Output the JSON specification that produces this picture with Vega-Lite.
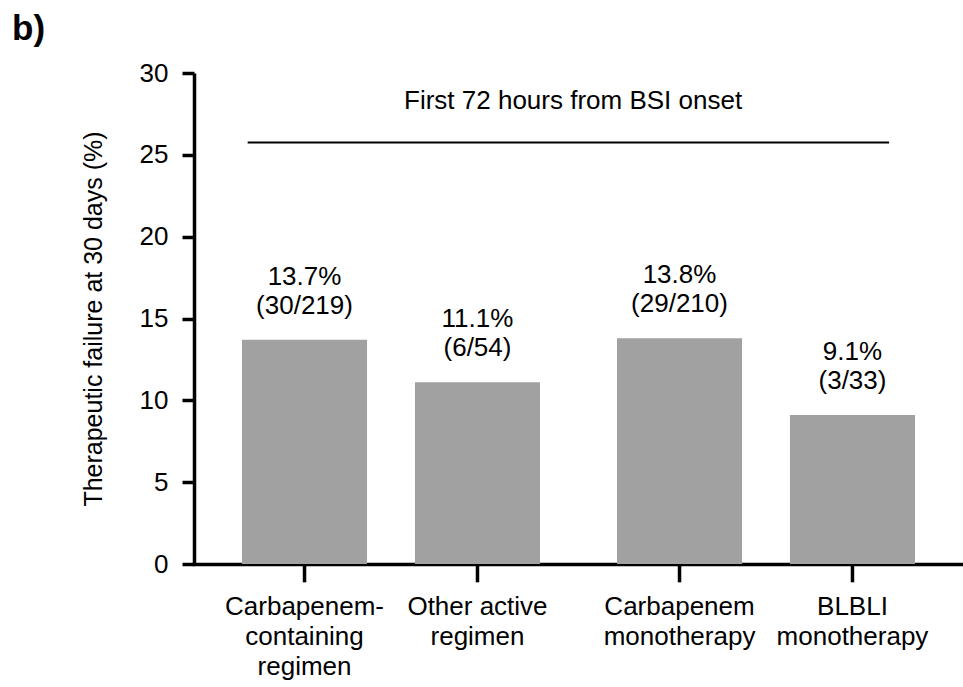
{
  "$schema": "https://vega.github.io/schema/vega-lite/v6.json",
  "width": 769,
  "height": 491,
  "autosize": {"type": "none"},
  "padding": {"left": 194, "top": 73, "right": 0, "bottom": 123},
  "background": "white",
  "title": {"text": "b)", "anchor": "start", "frame": "group", "dx": -182, "dy": 35, "fontSize": 35, "fontWeight": "bold", "color": "black", "baseline": "alphabetic", "offset": 20},
  "config": {
    "font": "Liberation Sans",
    "view": {"stroke": null},
    "axis": {"grid": false}
  },
  "datasets": {
    "bars": [
      {"comparison": "Combination regimens", "arm": "Carbapenem", "regimen": "Carbapenem-\ncontaining\nregimen", "pct": 13.7, "label": "13.7%\n(30/219)"},
      {"comparison": "Combination regimens", "arm": "Alternative", "regimen": "Other active\nregimen", "pct": 11.1, "label": "11.1%\n(6/54)"},
      {"comparison": "Monotherapy", "arm": "Carbapenem", "regimen": "Carbapenem\nmonotherapy", "pct": 13.8, "label": "13.8%\n(29/210)"},
      {"comparison": "Monotherapy", "arm": "Alternative", "regimen": "BLBLI\nmonotherapy", "pct": 9.1, "label": "9.1%\n(3/33)"}
    ],
    "bracket": [
      {"from": "Combination regimens", "to": "Monotherapy", "y": 25.75, "text": "First 72 hours from BSI onset"}
    ]
  },
  "layer": [
    {
      "data": {"name": "bars"},
      "mark": {"type": "bar", "color": "#a1a1a1"},
      "encoding": {
        "x": {"field": "comparison", "type": "nominal", "sort": null,
              "scale": {"domain": ["Combination regimens", "Monotherapy"], "paddingInner": 0.2053, "paddingOuter": 0.128},
              "axis": {"title": null, "labels": false, "ticks": false, "domain": true, "domainColor": "black", "domainWidth": 3.5, "domainCap": "square"}},
        "xOffset": {"field": "arm", "type": "nominal", "scale": {"domain": ["Carbapenem", "Alternative"], "paddingInner": 0.277, "paddingOuter": 0}},
        "y": {"field": "pct", "type": "quantitative",
              "scale": {"domain": [0, 30], "nice": false},
              "axis": {"title": "Therapeutic failure at 30 days (%)", "values": [0, 5, 10, 15, 20, 25, 30],
                       "titleFontSize": 25, "titleFontWeight": "normal", "titleColor": "black", "titlePadding": 33,
                       "labelFontSize": 26, "labelColor": "black", "labelPadding": 14,
                       "tickSize": 12, "tickWidth": 3.5, "tickColor": "black",
                       "domainColor": "black", "domainWidth": 3.5}}
      }
    },
    {
      "data": {"name": "bars"},
      "mark": {"type": "text", "baseline": "bottom", "fontSize": 26, "lineBreak": "\n", "lineHeight": 29, "dy": -50, "color": "black"},
      "encoding": {
        "x": {"field": "comparison", "type": "nominal"},
        "xOffset": {"field": "arm", "type": "nominal"},
        "y": {"field": "pct", "type": "quantitative"},
        "text": {"field": "label"}
      }
    },
    {
      "data": {"name": "bars"},
      "mark": {"type": "rule", "strokeWidth": 3.5, "color": "black"},
      "encoding": {
        "x": {"field": "comparison", "type": "nominal"},
        "xOffset": {"field": "arm", "type": "nominal"},
        "y": {"datum": 0},
        "y2": {"datum": -1.12}
      }
    },
    {
      "data": {"name": "bars"},
      "mark": {"type": "text", "baseline": "top", "fontSize": 26, "lineBreak": "\n", "lineHeight": 30, "dy": 30, "color": "black"},
      "encoding": {
        "x": {"field": "comparison", "type": "nominal"},
        "xOffset": {"field": "arm", "type": "nominal"},
        "y": {"datum": 0},
        "text": {"field": "regimen"}
      }
    },
    {
      "data": {"name": "bracket"},
      "mark": {"type": "rule", "strokeWidth": 2, "color": "black"},
      "encoding": {
        "x": {"field": "from", "type": "nominal", "bandPosition": 0.019},
        "x2": {"field": "to", "bandPosition": 0.913},
        "y": {"field": "y", "type": "quantitative"}
      }
    },
    {
      "data": {"name": "bracket"},
      "mark": {"type": "text", "baseline": "alphabetic", "fontSize": 26, "dy": -34, "color": "black"},
      "encoding": {
        "x": {"field": "from", "type": "nominal", "bandPosition": 1.111},
        "y": {"field": "y", "type": "quantitative"},
        "text": {"field": "text"}
      }
    }
  ]
}
